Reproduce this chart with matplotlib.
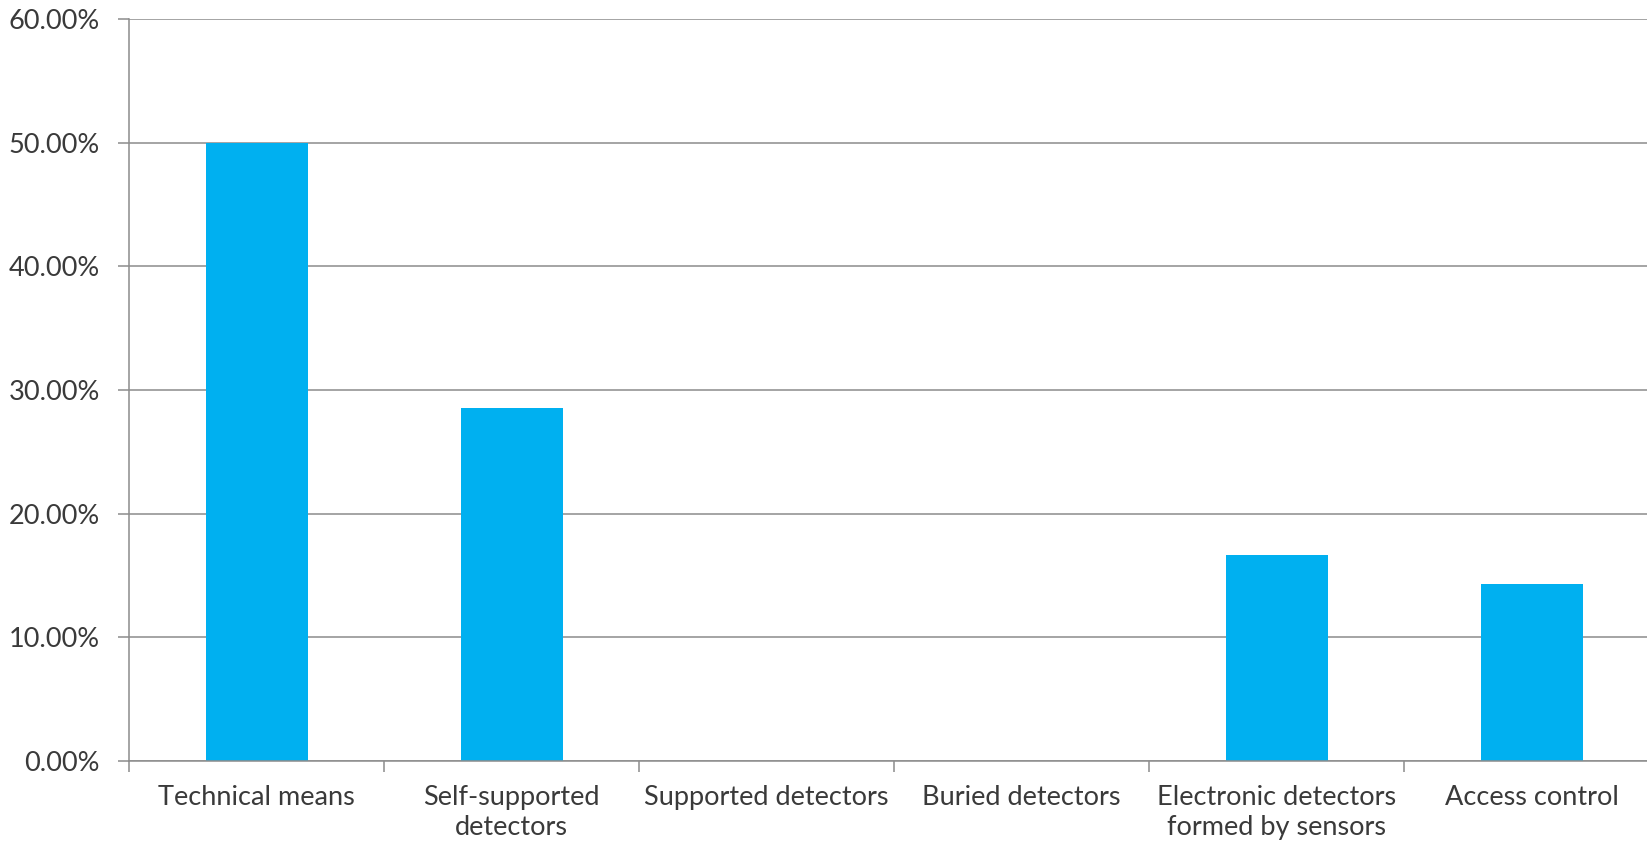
import matplotlib.pyplot as plt
import numpy as np
from matplotlib.ticker import FuncFormatter, FixedLocator

categories = ['Technical means', 'Self-supported\ndetectors', 'Supported detectors',
              'Buried detectors', 'Electronic detectors\nformed by sensors', 'Access control']
values = [0.50, 0.2857, 0.0, 0.0, 0.1667, 0.1429]
yticks = [0.0, 0.1, 0.2, 0.3, 0.4, 0.5, 0.6]

plt.rcParams['font.family'] = ['Lato', 'DejaVu Sans']

fig = plt.figure(figsize=(16.47, 8.46), dpi=100)
# plot area runs slightly past the right edge of the image, as in the original
ax = fig.add_axes([129 / 1647, 1 - 761 / 846, 1530 / 1647, (761 - 19) / 846])

x = np.arange(len(categories))
ax.bar(x, values, width=0.4, color='#00B0F0', zorder=2)

ax.set_xlim(-0.5, len(categories) - 0.5)
ax.set_ylim(0, 0.6)
ax.set_yticks(yticks)
ax.yaxis.set_major_formatter(FuncFormatter(lambda v, p: f'{v * 100:.2f}%'))
ax.grid(axis='y', color='#8c8c8c', linewidth=1.1, zorder=0)

ax.set_xticks(x)
ax.set_xticklabels(categories, linespacing=1.25)
ax.xaxis.set_minor_locator(FixedLocator(np.arange(len(categories) + 1) - 0.5))
ax.tick_params(axis='x', which='major', length=0, pad=17, labelsize=19.5, labelcolor='#3a3a3a')
ax.tick_params(axis='x', which='minor', length=8, color='#8c8c8c', width=1.1)
ax.tick_params(axis='y', length=8, color='#8c8c8c', width=1.1, pad=13, labelsize=19.5,
               labelcolor='#3a3a3a')

for s in ['top', 'right']:
    ax.spines[s].set_visible(False)
for s in ['left', 'bottom']:
    ax.spines[s].set_color('#8c8c8c')
    ax.spines[s].set_linewidth(1.1)

fig.savefig('out.png', dpi=100)
